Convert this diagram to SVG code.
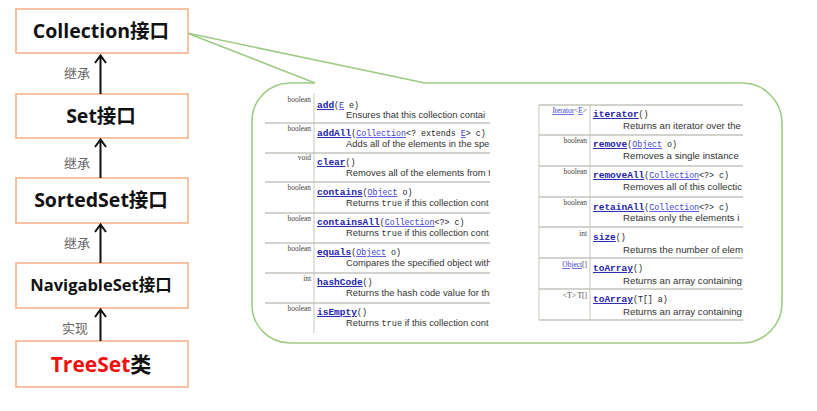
<svg xmlns="http://www.w3.org/2000/svg" width="817" height="411" viewBox="0 0 817 411">
<style>
.box{fill:#fff;stroke:#F2AE86;stroke-width:1.5}
.bt{font-family:"Open Sans","Noto Sans CJK SC",sans-serif;font-weight:bold;fill:#111;text-anchor:middle}
.el{font-family:"Noto Sans CJK SC",sans-serif;font-size:13px;fill:#666;text-anchor:middle}
.ar{stroke:#111;stroke-width:2;fill:none}
.call{fill:#fff;stroke:#9FCC85;stroke-width:1.6}
.sep{stroke:#C4C4BC;stroke-width:1.5}
.vl{stroke:#D0D0C8;stroke-width:1.2}
.m{font-family:"Liberation Mono",monospace;font-size:8.3px;fill:#222}
.mn{font-weight:bold;fill:#2323B0;font-size:9.5px;text-decoration:underline}
.lk{fill:#4040D8;text-decoration:underline}
.d{font-family:"Liberation Sans",Arial,sans-serif;font-size:9.4px;fill:#333}
.dr{font-size:9.7px}
.tt{font-family:"Liberation Mono",monospace;font-size:8.6px}
.ty{font-family:"Liberation Serif",serif;font-size:7.4px;fill:#444;text-anchor:end}
.tyl{fill:#4040D8;text-decoration:underline}
</style>
<defs>
<clipPath id="cl"><rect x="260" y="88" width="230" height="250"/></clipPath>
<clipPath id="cr"><rect x="535" y="100" width="208" height="225"/></clipPath>
</defs>

<g id="callout">
<path class="call" d="M 290,83 L 315,83 L 187,33 L 425,83 L 742,83 A 40,40 0 0 1 782,123 L 782,303 A 40,40 0 0 1 742,343 L 290,343 A 38,38 0 0 1 252,305 L 252,121 A 38,38 0 0 1 290,83 Z"/>
</g>

<g id="node-collection"><rect class="box" x="16" y="9" width="172" height="44"/><text class="bt" x="101" y="38" font-size="19.5">Collection接口</text></g>
<g id="node-set"><rect class="box" x="16" y="94" width="172" height="44"/><text class="bt" x="101" y="123" font-size="19.5">Set接口</text></g>
<g id="node-sortedset"><rect class="box" x="16" y="178" width="172" height="45"/><text class="bt" x="101" y="207" font-size="19.5">SortedSet接口</text></g>
<g id="node-navigableset"><rect class="box" x="16" y="263" width="172" height="45"/><text class="bt" x="101" y="291" font-size="16.5">NavigableSet接口</text></g>
<g id="node-treeset"><rect class="box" x="16" y="341" width="172" height="46"/><text class="bt" x="101" y="372" font-size="21"><tspan fill="#EE1111">TreeSet</tspan>类</text></g>

<g id="connectors">
<path class="ar" d="M100.5,94 V56 M95,63 L100.5,55.5 L106,63"/>
<path class="ar" d="M100.5,178 V140 M95,147 L100.5,139.5 L106,147"/>
<path class="ar" d="M100.5,263 V225 M95,232 L100.5,224.5 L106,232"/>
<path class="ar" d="M100.5,341 V310 M95,317 L100.5,309.5 L106,317"/>
<text class="el" x="77" y="78">继承</text>
<text class="el" x="77" y="168">继承</text>
<text class="el" x="77" y="248">继承</text>
<text class="el" x="75" y="333">实现</text>
</g>

<g id="table-left" clip-path="url(#cl)">
<line class="vl" x1="314" y1="93" x2="314" y2="333"/>
<line class="sep" x1="265" y1="123" x2="490" y2="123"/>
<line class="sep" x1="265" y1="153" x2="490" y2="153"/>
<line class="sep" x1="265" y1="182" x2="490" y2="182"/>
<line class="sep" x1="265" y1="213" x2="490" y2="213"/>
<line class="sep" x1="265" y1="243" x2="490" y2="243"/>
<line class="sep" x1="265" y1="273" x2="490" y2="273"/>
<line class="sep" x1="265" y1="303" x2="490" y2="303"/>

<text class="ty" x="311" y="102">boolean</text>
<text class="m" x="317" y="108"><tspan class="mn">add</tspan>(<tspan class="lk">E</tspan> e)</text>
<text class="d" x="346" y="118">Ensures that this collection contai</text>

<text class="ty" x="311" y="131">boolean</text>
<text class="m" x="317" y="136"><tspan class="mn">addAll</tspan>(<tspan class="lk">Collection</tspan>&lt;? extends <tspan class="lk">E</tspan>&gt; c)</text>
<text class="d" x="346" y="147">Adds all of the elements in the spe</text>

<text class="ty" x="311" y="160">void</text>
<text class="m" x="317" y="165"><tspan class="mn">clear</tspan>()</text>
<text class="d" x="346" y="176">Removes all of the elements from t</text>

<text class="ty" x="311" y="190">boolean</text>
<text class="m" x="317" y="195"><tspan class="mn">contains</tspan>(<tspan class="lk">Object</tspan> o)</text>
<text class="d" x="346" y="206">Returns <tspan class="tt">true</tspan> if this collection cont</text>

<text class="ty" x="311" y="221">boolean</text>
<text class="m" x="317" y="225"><tspan class="mn">containsAll</tspan>(<tspan class="lk">Collection</tspan>&lt;?&gt; c)</text>
<text class="d" x="346" y="236">Returns <tspan class="tt">true</tspan> if this collection cont</text>

<text class="ty" x="311" y="251">boolean</text>
<text class="m" x="317" y="255"><tspan class="mn">equals</tspan>(<tspan class="lk">Object</tspan> o)</text>
<text class="d" x="346" y="266">Compares the specified object with</text>

<text class="ty" x="311" y="281">int</text>
<text class="m" x="317" y="285"><tspan class="mn">hashCode</tspan>()</text>
<text class="d" x="346" y="296">Returns the hash code value for thi</text>

<text class="ty" x="311" y="311">boolean</text>
<text class="m" x="317" y="315"><tspan class="mn">isEmpty</tspan>()</text>
<text class="d" x="346" y="326">Returns <tspan class="tt">true</tspan> if this collection cont</text>
</g>

<g id="table-right" clip-path="url(#cr)">
<line class="sep" x1="539" y1="105" x2="743" y2="105"/>
<line class="vl" x1="539" y1="105" x2="539" y2="320"/>
<line class="vl" x1="590" y1="105" x2="590" y2="320"/>
<line class="sep" x1="539" y1="135" x2="743" y2="135"/>
<line class="sep" x1="539" y1="166" x2="743" y2="166"/>
<line class="sep" x1="539" y1="197" x2="743" y2="197"/>
<line class="sep" x1="539" y1="227" x2="743" y2="227"/>
<line class="sep" x1="539" y1="258" x2="743" y2="258"/>
<line class="sep" x1="539" y1="289" x2="743" y2="289"/>
<line class="sep" x1="539" y1="320" x2="743" y2="320"/>

<text class="ty" x="587" y="113"><tspan class="tyl">Iterator</tspan>&lt;<tspan class="tyl">E</tspan>&gt;</text>
<text class="m" x="593" y="117"><tspan class="mn">iterator</tspan>()</text>
<text class="d dr" x="623" y="129">Returns an iterator over the</text>

<text class="ty" x="587" y="143">boolean</text>
<text class="m" x="593" y="147"><tspan class="mn">remove</tspan>(<tspan class="lk">Object</tspan> o)</text>
<text class="d dr" x="623" y="159">Removes a single instance</text>

<text class="ty" x="587" y="174">boolean</text>
<text class="m" x="593" y="178"><tspan class="mn">removeAll</tspan>(<tspan class="lk">Collection</tspan>&lt;?&gt; c)</text>
<text class="d dr" x="623" y="190">Removes all of this collectic</text>

<text class="ty" x="587" y="205">boolean</text>
<text class="m" x="593" y="210"><tspan class="mn">retainAll</tspan>(<tspan class="lk">Collection</tspan>&lt;?&gt; c)</text>
<text class="d dr" x="623" y="221">Retains only the elements i</text>

<text class="ty" x="587" y="236">int</text>
<text class="m" x="593" y="240"><tspan class="mn">size</tspan>()</text>
<text class="d dr" x="623" y="253">Returns the number of elem</text>

<text class="ty" x="587" y="267"><tspan class="tyl">Object</tspan>[]</text>
<text class="m" x="593" y="271"><tspan class="mn">toArray</tspan>()</text>
<text class="d dr" x="623" y="284">Returns an array containing</text>

<text class="ty" x="587" y="298">&lt;T&gt; T[]</text>
<text class="m" x="593" y="302"><tspan class="mn">toArray</tspan>(T[] a)</text>
<text class="d dr" x="623" y="315">Returns an array containing</text>
</g>
</svg>
